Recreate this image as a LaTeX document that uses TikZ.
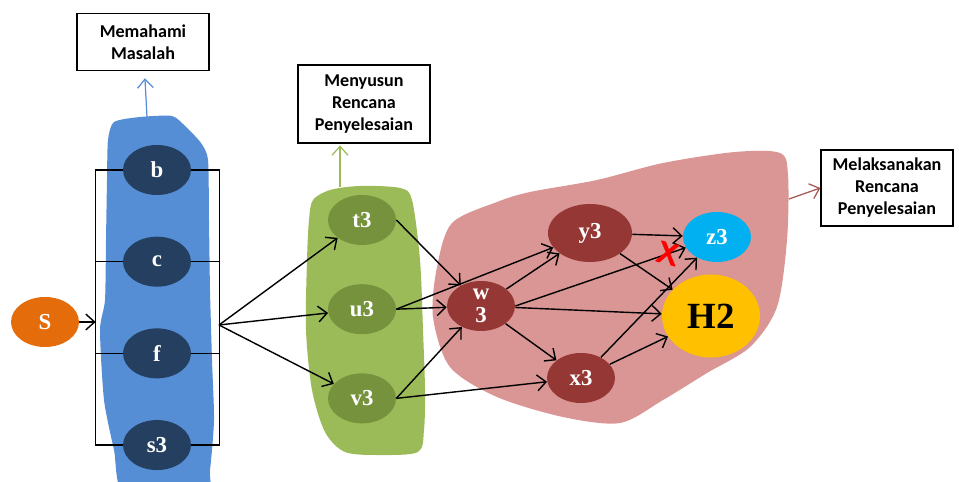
\documentclass[tikz,border=0pt]{standalone}
\usepackage{fontspec}
\setmainfont{Liberation Serif}
\newfontfamily\boxfont{Carlito}
\usetikzlibrary{positioning,shapes.geometric,arrows.meta}

\begin{document}
\begin{tikzpicture}[
            x=0.02cm,y=-0.02cm,
            >={Straight Barb[length=5pt,width=9pt]},
            link/.style={line width=0.8pt,->},
            bar/.style={line width=0.8pt},
            stage/.style={draw,line width=0.8pt,minimum width=2.64cm,align=center,
                font=\boxfont\bfseries\fontsize{10.3}{12.5}\selectfont},
            blob/.style={ellipse,inner sep=0pt,minimum width=1.36cm,minimum height=1cm,
                align=center,text=white,font=\bfseries\fontsize{13}{14}\selectfont}
        ]
            \definecolor{blx}{RGB}{85,142,213}
            \definecolor{nvx}{RGB}{36,63,96}
            \definecolor{orx}{RGB}{228,108,10}
            \definecolor{grx}{RGB}{155,187,89}
            \definecolor{ogx}{RGB}{118,146,60}
            \definecolor{rex}{RGB}{217,150,148}
            \definecolor{mrx}{RGB}{149,55,53}
            \definecolor{cyx}{RGB}{0,176,240}
            \definecolor{yex}{RGB}{255,192,0}

            \clip (0,0) rectangle (959,482);

            % blobs
            \fill[blx] plot[smooth cycle,tension=0.4] coordinates {(108,140) (114,122) (140,117) (172,116)
                (186,127) (201,143) (208,160) (209,220) (210,290) (212,360) (214,420) (210,470)
                (205,495) (125,495) (114,450) (104,400) (100,330) (105,300) (106,240) (107,180)};
            \fill[grx] plot[smooth cycle] coordinates {(313,200) (330,190) (360,186) (400,188) (412,200)
                (420,260) (423,330) (425,390) (424,430) (418,452) (380,455) (345,452) (325,432)
                (312,390) (306,330) (307,260) (309,220)};
            \fill[rex] plot[smooth cycle] coordinates {(452,223) (497,202) (530,192) (597,180) (663,163)
                (735,152) (780,153) (788,175) (787,240) (777,307) (750,347) (707,373) (663,400)
                (620,423) (563,417) (497,397) (450,367) (433,317) (437,267)};

            \node[stage,minimum height=1.14cm] (mm) at (143,42)  {Memahami\\Masalah};
            \node[stage,minimum height=1.56cm] (ms) at (364,104) {Menyusun\\Rencana\\Penyelesaian};
            \node[stage,minimum height=1.52cm] (ml) at (887,188) {Melaksanakan\\Rencana\\Penyelesaian};

            \begin{scope}[
                node distance=8.2mm,
                every node/.style={blob,fill=nvx}
            ]
                \node (b)                 at (157,170) {b};
                \node (c)  [below=of b]                {c};
                \node (f)  [below=of c]                {f};
                \node (s3) [below=of f]                {s3};
            \end{scope}

            \begin{scope}[
                node distance=7.7mm,
                every node/.style={blob,fill=ogx}
            ]
                \node (t3)                at (362,220) {t3};
                \node (u3) [below=of t3]               {u3};
                \node (v3) [below=of u3]               {v3};
            \end{scope}

            \node[blob,fill=orx] (S)  at (45,322)  {S};
            \node[blob,fill=mrx] (w3) at (481,306) {w\\[-1pt]3};
            \node[blob,fill=mrx,minimum width=1.68cm,minimum height=1.16cm] (y3) at (590,233) {y3};
            \node[blob,fill=mrx] (x3) at (581,378) {x3};
            \node[blob,fill=cyx] (z3) at (717,237) {z3};
            \node[blob,fill=yex,text=black,minimum width=1.96cm,minimum height=1.66cm,
                font=\bfseries\fontsize{21}{22}\selectfont] (H2) at (711,316) {H2};

            \draw[bar] (b.west) -- +(-27,0) coordinate (bl) -- (bl |- s3.west) -- (s3.west);
            \draw[bar] (c.west) -- (c.west -| bl);
            \draw[bar] (f.west) -- (f.west -| bl);
            \draw[bar] (b.east) -- +(28,0) coordinate (br) -- (br |- s3.east) -- (s3.east);
            \draw[bar] (c.east) -- (c.east -| br);
            \draw[bar] (f.east) -- (f.east -| br);
            \coordinate (fan) at (219,325);

            \draw[link] (S)  -- (S -| bl);
            \draw[link] (fan) -- (t3);
            \draw[link] (fan) -- (u3);
            \draw[link] (fan) -- (v3);
            \draw[link] (t3.east) -- (w3);
            \draw[link] (u3.east) -- (w3);
            \draw[link] (u3.east) -- (y3);
            \draw[link] (v3.east) -- (w3);
            \draw[link] (v3.east) -- (x3);
            \draw[link] (w3) -- (y3);
            \draw[link] (w3.east) -- node[pos=0.9,red,inner sep=0pt,rotate=-15,
                font=\sffamily\bfseries\fontsize{18}{18}\selectfont] {X} (z3);
            \draw[link] (w3) -- (H2);
            \draw[link] (w3) -- (x3);
            \draw[link] (y3) -- (z3);
            \draw[link] (y3) -- (H2);
            \draw[link] (x3) -- (z3);
            \draw[link] (x3) -- (H2);

            \coordinate (bluetop)  at (147,117);
            \coordinate (greentop) at (340,187);
            \coordinate (redtop)   at (789,199);
            \draw[link,blx,line width=0.7pt,shorten >=4pt] (bluetop) -- (mm);
            \draw[link,grx,line width=0.7pt,shorten >=1pt] (greentop) -- (greentop |- ms.south);
            \draw[link,mrx!85,line width=0.7pt] (redtop) -- (ml.west);
        \end{tikzpicture}
\end{document}
